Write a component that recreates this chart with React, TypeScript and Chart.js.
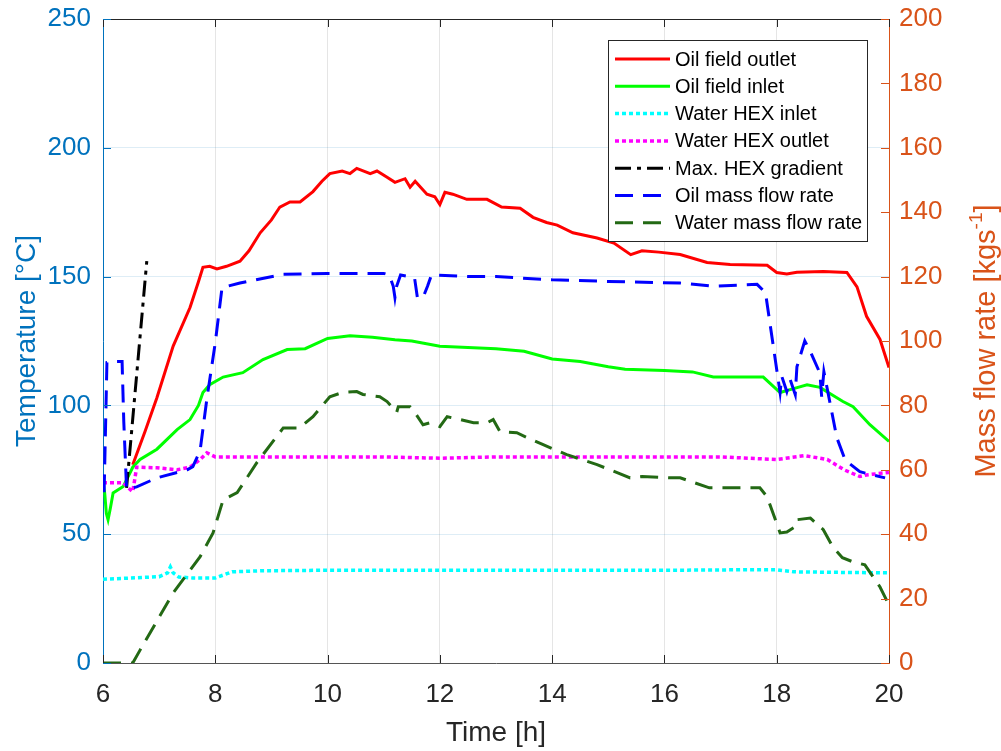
import React, { useEffect, useRef } from "react";
import { Chart, registerables } from "chart.js";

Chart.register(...registerables);

const FONT = "'Liberation Sans', Arial, sans-serif";
const BLUE_AX = "rgb(0,114,189)";
const ORANGE_AX = "rgb(217,83,25)";
const DARK = "#262626";

// Time ticks
const xTicks = [6, 8, 10, 12, 14, 16, 18, 20];
const tempTicks = [0, 50, 100, 150, 200, 250];
const flowTicks = [0, 20, 40, 60, 80, 100, 120, 140, 160, 180, 200];

// Oil field outlet [°C]
const oilOutT = [6.53, 6.75, 6.96, 7.25, 7.55, 7.7, 7.78, 7.9, 8.03, 8.2, 8.44, 8.6, 8.8, 9.0, 9.15, 9.33, 9.51, 9.74, 9.9, 10.04, 10.26, 10.4, 10.52, 10.76, 10.88, 11.06, 11.2, 11.38, 11.47, 11.56, 11.77, 11.91, 12.0, 12.09, 12.23, 12.48, 12.84, 13.1, 13.43, 13.66, 13.9, 14.09, 14.37, 14.8, 15.1, 15.4, 15.6, 15.9, 16.28, 16.76, 17.17, 17.83, 18.0, 18.18, 18.36, 18.83, 19.25, 19.43, 19.6, 19.84, 20.0];
const oilOutV = [77, 90, 103, 123, 138, 148, 153.6, 154, 153, 154, 156, 160, 167, 172, 177, 179, 179, 183, 187, 190, 191, 190, 192, 190, 191, 188.6, 186.6, 188, 184.7, 187, 182, 181, 178, 182.7, 182, 180, 180, 177, 176.5, 173, 171, 170, 167, 165, 163, 158.5, 160, 159.5, 158.6, 155.5, 154.7, 154.4, 151.6, 151, 151.7, 152, 151.6, 146, 134.6, 125.6, 114.7];

// Oil field inlet [°C]
const oilInT = [6.0, 6.03, 6.06, 6.09, 6.13, 6.18, 6.36, 6.53, 6.66, 6.96, 7.32, 7.55, 7.7, 7.78, 7.9, 8.14, 8.49, 8.85, 9.28, 9.6, 10.0, 10.4, 10.8, 11.2, 11.5, 12.0, 12.5, 13.0, 13.5, 14.0, 14.5, 15.0, 15.3, 16.0, 16.5, 16.87, 17.76, 18.06, 18.3, 18.54, 18.77, 19.18, 19.36, 19.66, 20.0];
const oilInV = [70, 66, 58, 55.6, 60, 66, 68.5, 76, 79, 83, 90.6, 94.5, 100, 105, 108, 111, 112.7, 117.8, 121.7, 122, 126, 127, 126.5, 125.5, 125, 123, 122.5, 122, 121, 118, 117, 115, 114, 113.5, 113, 111, 111, 105, 106.5, 108, 107, 101.5, 99.5, 92.5, 86];

// Water HEX inlet [°C]
const wInT = [6.0, 6.5, 7.0, 7.15, 7.2, 7.25, 7.35, 7.6, 8.0, 8.3, 8.8, 10, 12, 14, 16, 17.5, 18.0, 18.3, 19.0, 20.0];
const wInV = [32.5, 33, 33.5, 35, 37.3, 35, 33.4, 33, 33, 35.4, 35.8, 36, 36, 36, 36, 36.2, 36.2, 35.4, 35.2, 35];

// Water HEX outlet [°C]
const wOutT = [6.0, 6.36, 6.45, 6.53, 6.6, 6.96, 7.32, 7.55, 7.73, 7.85, 8.0, 9, 10, 11, 12, 13, 14, 15, 16, 17, 18, 18.5, 18.9, 19.2, 19.48, 19.6, 20.0];
const wOutV = [70, 70, 68, 66.5, 76, 75.8, 75, 76, 79, 81.6, 80, 80, 80, 80, 79.5, 80, 80, 80, 80, 80, 79, 80.5, 79, 75, 72.4, 73, 74];

// Max. HEX gradient [°C]
const gradT = [6.42, 6.78];
const gradV = [68, 156];

// Oil mass flow rate [kg/s]
const oilFlowT = [6.02, 6.07, 6.18, 6.34, 6.37, 6.42, 6.6, 6.96, 7.5, 7.6, 7.73, 7.85, 8.0, 8.12, 8.44, 9.2, 10, 10.5, 11.0, 11.1, 11.17, 11.2, 11.23, 11.3, 11.45, 11.55, 11.6, 11.7, 11.78, 11.85, 12.5, 13, 14, 15, 16.28, 16.87, 17.65, 17.8, 18.06, 18.09, 18.18, 18.24, 18.33, 18.36, 18.5, 18.6, 18.77, 18.8, 18.84, 19.07, 19.22, 19.48, 19.93];
const oilFlowV = [53, 93.3, 93.6, 93.6, 75, 54, 54.7, 57.5, 60, 61, 66, 82, 99.5, 116.6, 118, 120.7, 121, 121, 121, 120.5, 117, 113.5, 117, 120.5, 120, 119.5, 113.5, 113.5, 117, 120.5, 120, 120, 119, 118.5, 118, 117, 117.6, 115, 84, 89, 84.3, 88, 83.4, 92, 100, 96.7, 90, 82.7, 90.5, 70, 63, 59.4, 57.5];

// Water mass flow rate [kg/s]
const wFlowT = [6.0, 6.53, 6.66, 7.25, 7.73, 7.96, 8.14, 8.39, 8.74, 9.21, 9.5, 9.74, 10.04, 10.26, 10.52, 10.63, 10.93, 11.06, 11.23, 11.26, 11.47, 11.52, 11.7, 11.82, 12.0, 12.13, 12.36, 12.6, 12.84, 12.95, 13.07, 13.37, 13.55, 13.84, 14.26, 14.8, 15.39, 15.6, 16.1, 16.28, 16.8, 17.47, 17.7, 17.83, 18.06, 18.18, 18.33, 18.36, 18.6, 18.83, 19.0, 19.17, 19.36, 19.57, 19.84, 20.0];
const wFlowV = [0, 0, 4, 21.8, 33, 40.4, 50.7, 52.9, 62.2, 73, 73, 76.5, 82.7, 84, 84.3, 83.4, 82.7, 81.2, 77.8, 79.6, 79.6, 78.7, 74, 74.6, 73.4, 76.5, 75.6, 74.6, 74.6, 75.6, 71.9, 71.5, 70, 67.8, 64.7, 61.6, 57.5, 57.9, 57.5, 57.5, 54.4, 54.4, 54.4, 51.6, 40.4, 40.7, 42.3, 44.5, 45, 41.4, 36, 32.7, 31.4, 30.5, 23.6, 18];

const seriesLabels = ["Oil field outlet", "Oil field inlet", "Water HEX inlet", "Water HEX outlet", "Max. HEX gradient", "Oil mass flow rate", "Water mass flow rate"];
const seriesColors = ["#ff0000", "#00ff00", "#00ffff", "#ff00ff", "#000000", "#0000ff", "rgb(35,105,20)"];
const seriesDashes = [[], [], [4, 3], [4, 3], [16, 6, 4, 6], [18, 10], [18, 10]];
const seriesWidths = [3, 3, 3.5, 3.5, 3, 3, 3];
const seriesAxes = ["yT", "yT", "yT", "yT", "yT", "yF", "yF"];
const seriesT = [oilOutT, oilInT, wInT, wOutT, gradT, oilFlowT, wFlowT];
const seriesV = [oilOutV, oilInV, wInV, wOutV, gradV, oilFlowV, wFlowV];

const overlay = {
  id: "overlay",
  afterDraw(chart: any) {
    const ctx = chart.ctx;
    const a = chart.chartArea;
    const sx = chart.scales.x;
    const sT = chart.scales.yT;
    const sF = chart.scales.yF;
    ctx.save();
    // top border
    ctx.strokeStyle = DARK;
    ctx.lineWidth = 1;
    ctx.beginPath();
    ctx.moveTo(a.left, Math.round(a.top) + 0.5);
    ctx.lineTo(a.right, Math.round(a.top) + 0.5);
    ctx.stroke();
    // inward ticks
    const TL = 8;
    ctx.beginPath();
    xTicks.forEach((t) => {
      const px = Math.round(sx.getPixelForValue(t)) + 0.5;
      ctx.moveTo(px, a.bottom);
      ctx.lineTo(px, a.bottom - TL);
      ctx.moveTo(px, a.top);
      ctx.lineTo(px, a.top + TL);
    });
    ctx.stroke();
    ctx.strokeStyle = BLUE_AX;
    ctx.beginPath();
    tempTicks.forEach((t) => {
      const py = Math.round(sT.getPixelForValue(t)) + 0.5;
      ctx.moveTo(a.left, py);
      ctx.lineTo(a.left + TL, py);
    });
    ctx.stroke();
    ctx.strokeStyle = ORANGE_AX;
    ctx.beginPath();
    flowTicks.forEach((t) => {
      const py = Math.round(sF.getPixelForValue(t)) + 0.5;
      ctx.moveTo(a.right, py);
      ctx.lineTo(a.right - TL, py);
    });
    ctx.stroke();

    // right axis title, rotated to read bottom-to-top
    ctx.fillStyle = ORANGE_AX;
    const main = "Mass flow rate [kgs";
    const sup = "-1";
    const tail = "]";
    ctx.font = `29px ${FONT}`;
    const w1 = ctx.measureText(main).width;
    const w3 = ctx.measureText(tail).width;
    ctx.font = `19px ${FONT}`;
    const w2 = ctx.measureText(sup).width;
    const total = w1 + w2 + w3;
    ctx.translate(995, (a.top + a.bottom) / 2);
    ctx.rotate(-Math.PI / 2);
    ctx.textBaseline = "alphabetic";
    ctx.textAlign = "left";
    const x0 = -total / 2;
    ctx.font = `29px ${FONT}`;
    ctx.fillText(main, x0, 0);
    ctx.font = `19px ${FONT}`;
    ctx.fillText(sup, x0 + w1, -13);
    ctx.font = `29px ${FONT}`;
    ctx.fillText(tail, x0 + w1 + w2, 0);
    ctx.restore();

    // legend
    ctx.save();
    const bx = 608, by = 40, bw = 259, bh = 201;
    ctx.fillStyle = "#ffffff";
    ctx.fillRect(bx, by, bw, bh);
    ctx.strokeStyle = DARK;
    ctx.lineWidth = 1;
    ctx.strokeRect(bx + 0.5, by + 0.5, bw, bh);
    ctx.font = `20px ${FONT}`;
    ctx.textBaseline = "middle";
    ctx.textAlign = "left";
    seriesLabels.forEach((lab, i) => {
      const y = 59 + i * 27.3;
      ctx.strokeStyle = seriesColors[i];
      ctx.lineWidth = seriesWidths[i];
      ctx.setLineDash(seriesDashes[i]);
      ctx.beginPath();
      ctx.moveTo(615, y);
      ctx.lineTo(670, y);
      ctx.stroke();
      ctx.setLineDash([]);
      ctx.fillStyle = "#000000";
      ctx.fillText(lab, 675, y + 1);
    });
    ctx.restore();
  },
};

export default function App() {
  const ref = useRef<HTMLCanvasElement | null>(null);
  useEffect(() => {
    if (!ref.current) return;
    Chart.defaults.font.family = FONT;
    const datasets = seriesLabels.map((label, i) => ({
      label,
      data: seriesT[i].map((x, j) => ({ x, y: seriesV[i][j] })),
      borderColor: seriesColors[i],
      backgroundColor: seriesColors[i],
      borderWidth: seriesWidths[i],
      borderDash: seriesDashes[i],
      pointRadius: 0,
      tension: 0,
      fill: false,
      yAxisID: seriesAxes[i],
      order: seriesLabels.length - i,
    }));
    const fitY = (w: number) => (s: any) => {
      s.width = w;
      s.paddingTop = 0;
      s.paddingBottom = 0;
    };
    const chart = new Chart(ref.current, {
      type: "line",
      data: { datasets },
      options: {
        responsive: false,
        animation: false,
        devicePixelRatio: 1,
        layout: { padding: { top: 19, left: 0, right: 0, bottom: 0 } },
        plugins: { legend: { display: false }, tooltip: { enabled: false } },
        scales: {
          x: {
            type: "linear",
            min: 6,
            max: 20,
            afterFit: (s: any) => { s.height = 88; s.paddingLeft = 0; s.paddingRight = 0; },
            afterBuildTicks: (s: any) => { s.ticks = xTicks.map((v) => ({ value: v })); },
            ticks: { font: { size: 26 }, color: DARK, padding: 16, maxRotation: 0 },
            grid: { color: "rgba(0,0,0,0.10)", drawTicks: false },
            border: { color: "#555555", width: 1 },
            title: { display: true, text: "Time [h]", font: { size: 28 }, color: DARK, padding: { top: 0, bottom: 1 } },
          },
          yT: {
            type: "linear",
            position: "left",
            min: 0,
            max: 250,
            afterFit: fitY(103),
            afterBuildTicks: (s: any) => { s.ticks = tempTicks.map((v) => ({ value: v })); },
            ticks: { font: { size: 26 }, color: BLUE_AX, padding: 12 },
            grid: { color: "rgba(0,114,189,0.13)", drawTicks: false },
            border: { color: BLUE_AX, width: 1 },
            title: { display: true, text: "Temperature [°C]", font: { size: 28 }, color: BLUE_AX, padding: { top: 10, bottom: 0 } },
          },
          yF: {
            type: "linear",
            position: "right",
            min: 0,
            max: 200,
            afterFit: fitY(112),
            afterBuildTicks: (s: any) => { s.ticks = flowTicks.map((v) => ({ value: v })); },
            ticks: { font: { size: 26 }, color: ORANGE_AX, padding: 10 },
            grid: { display: false, drawTicks: false },
            border: { color: ORANGE_AX, width: 1 },
          },
        },
      },
      plugins: [overlay],
    });
    return () => chart.destroy();
  }, []);
  return (
    <div style={{ position: "absolute", left: 0, top: 0, width: 1001, height: 751, background: "#fff" }}>
      <canvas ref={ref} width={1001} height={751} />
    </div>
  );
}
